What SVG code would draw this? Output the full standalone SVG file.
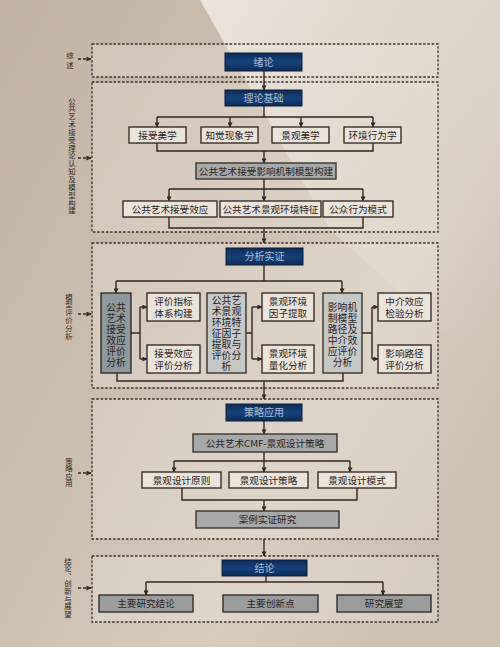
<svg xmlns="http://www.w3.org/2000/svg" width="500" height="647" viewBox="0 0 500 647">
<defs>
<linearGradient id="bg" x1="0" y1="0" x2="1" y2="0.7">
<stop offset="0" stop-color="#c2b3a3"/>
<stop offset="0.45" stop-color="#cdbfb0"/>
<stop offset="0.75" stop-color="#d8ccbf"/>
<stop offset="1" stop-color="#cdbfb1"/>
</linearGradient>
<linearGradient id="beam" x1="0" y1="0" x2="1" y2="0.8">
<stop offset="0" stop-color="#f3eee8" stop-opacity="0.85"/>
<stop offset="1" stop-color="#efe8e0" stop-opacity="0"/>
</linearGradient>
<linearGradient id="navy" x1="0" y1="0" x2="0" y2="1">
<stop offset="0" stop-color="#0c2c57"/>
<stop offset="0.5" stop-color="#16427a"/>
<stop offset="1" stop-color="#0c2c57"/>
</linearGradient>
<marker id="ah" viewBox="0 0 6 6" refX="5.5" refY="3" markerWidth="5" markerHeight="5" markerUnits="userSpaceOnUse" orient="auto">
<path d="M0,0 L6,3 L0,6 z" fill="#33261f"/>
</marker>
<style>
.sec{fill:#ece5dc;fill-opacity:0.35;stroke:#3a2d26;stroke-width:1.3;stroke-dasharray:2.5,1.8}
.nav{fill:url(#navy);stroke:#0a1f3d;stroke-width:1}
.nt{fill:#aac0da;font-family:"Noto Sans CJK SC",sans-serif;font-size:10px;text-anchor:middle}
.lb{fill:#ebe4da;stroke:#3a2d28;stroke-width:1.4}
.gm{fill:#a6a9a7;stroke:#3a3330;stroke-width:1.4}
.gd{fill:#8d999d;stroke:#332c2a;stroke-width:1.4}
.gl{fill:#c6c8c6;stroke:#3a3330;stroke-width:1.4}
.gb{fill:#9a9d9b;stroke:#332c2a;stroke-width:1.4}
.t{fill:#2a211d;font-family:"Noto Sans CJK SC",sans-serif;font-size:9.6px;text-anchor:middle}
.tv{fill:#2a211d;font-family:"Noto Sans CJK SC",sans-serif;font-size:9.8px;text-anchor:middle}
.side{fill:#2e2420;font-family:"Noto Sans CJK SC",sans-serif;font-size:7.4px;text-anchor:start;writing-mode:vertical-rl}
.c{fill:none;stroke:#33261f;stroke-width:1.4}
.ca{fill:none;stroke:#33261f;stroke-width:1.4;marker-end:url(#ah)}
.sa{fill:none;stroke:#33261f;stroke-width:1.4;stroke-dasharray:3,2;marker-end:url(#ah)}
</style>
</defs>
<rect x="0" y="0" width="500" height="647" fill="url(#bg)"/>
<polygon points="200,0 500,0 500,380 330,230" fill="url(#beam)"/>

<g id="sections">
<rect id="sec1" class="sec" x="92" y="44" width="346" height="33"/>
<rect id="sec2" class="sec" x="92" y="82" width="346" height="150"/>
<rect id="sec3" class="sec" x="92" y="243" width="346" height="145"/>
<rect id="sec4" class="sec" x="92" y="399" width="346" height="140"/>
<rect id="sec5" class="sec" x="92" y="556" width="346" height="66"/>
</g>

<g id="side-labels">
<text id="side1" class="side" x="70" y="51" style="letter-spacing:3px">综述</text>
<text id="side2" class="side" x="72" y="97" style="letter-spacing:0.45px">公共艺术接受理论认知及模型构建</text>
<text id="side3" class="side" x="69" y="293" style="letter-spacing:0.4px">模型评价分析</text>
<text id="side4" class="side" x="69" y="457" style="letter-spacing:0.2px">策略应用</text>
<text id="side5" class="side" x="68" y="557" style="letter-spacing:0.2px">结论、创新与展望</text>
</g>

<g id="connectors">
<path class="sa" d="M78,59 H91"/>
<path class="sa" d="M78,158 H91"/>
<path class="sa" d="M78,314 H91"/>
<path class="sa" d="M78,473 H91"/>
<path class="sa" d="M78,588 H91"/>

<path class="ca" d="M264,71 V90"/>
<path class="c" d="M264,106 V117 M157,117 H373"/>
<path class="ca" d="M157,117 V127"/>
<path class="ca" d="M230,117 V127"/>
<path class="ca" d="M301,117 V127"/>
<path class="ca" d="M373,117 V127"/>
<path class="c" d="M157,143 V151 H373 V143"/>
<path class="ca" d="M264,151 V163"/>
<path class="c" d="M264,179 V189 M169,189 H363"/>
<path class="ca" d="M169,189 V201"/>
<path class="ca" d="M264,189 V201"/>
<path class="ca" d="M363,189 V201"/>
<path class="c" d="M169,217 V228 H363 V217"/>
<path class="ca" d="M264,228 V243"/>

<path class="c" d="M264,265 V281 M116,281 H342"/>
<path class="ca" d="M116,281 V293"/>
<path class="ca" d="M342,281 V293"/>
<path class="c" d="M131,333 H140 M140,307 V359"/>
<path class="ca" d="M140,307 H147"/>
<path class="ca" d="M140,359 H147"/>
<path class="c" d="M246,333 H252 M252,307 V359"/>
<path class="ca" d="M252,307 H262"/>
<path class="ca" d="M252,359 H262"/>
<path class="c" d="M362,333 H372 M372,307 V359"/>
<path class="ca" d="M372,307 H378"/>
<path class="ca" d="M372,359 H378"/>
<path class="c" d="M117,373 V381 H343 V373"/>
<path class="ca" d="M264,381 V399"/>

<path class="ca" d="M264,421 V434"/>
<path class="c" d="M264,452 V461 M174,461 H350"/>
<path class="ca" d="M174,461 V472"/>
<path class="ca" d="M264,461 V472"/>
<path class="ca" d="M350,461 V472"/>
<path class="c" d="M182,488 V500 H357 V488"/>
<path class="ca" d="M264,500 V511"/>
<path class="ca" d="M264,539 V556"/>

<path class="c" d="M266,576 V582 M146,582 H383"/>
<path class="ca" d="M146,582 V595"/>
<path class="ca" d="M383,582 V595"/>
</g>

<g id="n-xulun"><rect class="nav" x="225" y="53" width="77" height="18"/><text class="nt" x="263.5" y="65.5">绪论</text></g>
<g id="n-lilun"><rect class="nav" x="225" y="90" width="77" height="16"/><text class="nt" x="263.5" y="101.5">理论基础</text></g>
<g id="n-jieshou"><rect class="lb" x="129" y="127" width="57" height="16"/><text class="t" x="157.5" y="138.5">接受美学</text></g>
<g id="n-zhijue"><rect class="lb" x="201" y="127" width="57" height="16"/><text class="t" x="229.5" y="138.5">知觉现象学</text></g>
<g id="n-jingguan"><rect class="lb" x="272" y="127" width="57" height="16"/><text class="t" x="300.5" y="138.5">景观美学</text></g>
<g id="n-huanjing"><rect class="lb" x="344" y="127" width="57" height="16"/><text class="t" x="372.5" y="138.5">环境行为学</text></g>
<g id="n-moxing"><rect class="gm" x="196" y="163" width="140" height="16"/><text class="t" x="266" y="174.5">公共艺术接受影响机制模型构建</text></g>
<g id="n-xiaoying"><rect class="lb" x="123" y="201" width="94" height="16"/><text class="t" x="170" y="212.5">公共艺术接受效应</text></g>
<g id="n-tezheng"><rect class="lb" x="220" y="201" width="101" height="16"/><text class="t" x="270.5" y="212.5">公共艺术景观环境特征</text></g>
<g id="n-xingwei"><rect class="lb" x="323" y="201" width="70" height="16"/><text class="t" x="358" y="212.5">公众行为模式</text></g>

<g id="n-fenxi"><rect class="nav" x="226" y="248" width="77" height="17"/><text class="nt" x="264.5" y="260">分析实证</text></g>
<g id="n-pj1"><rect class="gd" x="101" y="293" width="30" height="80"/><text class="tv"><tspan x="116" y="311">公共</tspan><tspan x="116" dy="11">艺术</tspan><tspan x="116" dy="11">接受</tspan><tspan x="116" dy="11">效应</tspan><tspan x="116" dy="11">评价</tspan><tspan x="116" dy="11">分析</tspan></text></g>
<g id="n-zhibiao"><rect class="lb" x="147" y="293" width="53" height="28"/><text class="t"><tspan x="173.5" y="305">评价指标</tspan><tspan x="173.5" dy="12">体系构建</tspan></text></g>
<g id="n-jspj"><rect class="lb" x="147" y="345" width="53" height="28"/><text class="t"><tspan x="173.5" y="357">接受效应</tspan><tspan x="173.5" dy="12">评价分析</tspan></text></g>
<g id="n-pj2"><rect class="gl" x="207" y="293" width="39" height="80"/><text class="tv"><tspan x="226.5" y="304">公共艺</tspan><tspan x="226.5" dy="11">术景观</tspan><tspan x="226.5" dy="11">环境特</tspan><tspan x="226.5" dy="11">征因子</tspan><tspan x="226.5" dy="11">提取与</tspan><tspan x="226.5" dy="11">评价分</tspan><tspan x="226.5" dy="11">析</tspan></text></g>
<g id="n-yinzi"><rect class="lb" x="262" y="293" width="52" height="28"/><text class="t"><tspan x="288" y="305">景观环境</tspan><tspan x="288" dy="12">因子提取</tspan></text></g>
<g id="n-lianghua"><rect class="lb" x="262" y="345" width="52" height="28"/><text class="t"><tspan x="288" y="357">景观环境</tspan><tspan x="288" dy="12">量化分析</tspan></text></g>
<g id="n-pj3"><rect class="gl" x="323" y="293" width="39" height="80"/><text class="tv"><tspan x="342.5" y="311">影响机</tspan><tspan x="342.5" dy="11">制模型</tspan><tspan x="342.5" dy="11">路径及</tspan><tspan x="342.5" dy="11">中介效</tspan><tspan x="342.5" dy="11">应评价</tspan><tspan x="342.5" dy="11">分析</tspan></text></g>
<g id="n-zhongjie"><rect class="lb" x="378" y="293" width="53" height="28"/><text class="t"><tspan x="404.5" y="305">中介效应</tspan><tspan x="404.5" dy="12">检验分析</tspan></text></g>
<g id="n-lujing"><rect class="lb" x="378" y="345" width="53" height="28"/><text class="t"><tspan x="404.5" y="357">影响路径</tspan><tspan x="404.5" dy="12">评价分析</tspan></text></g>

<g id="n-celue"><rect class="nav" x="226" y="404" width="76" height="17"/><text class="nt" x="264" y="416">策略应用</text></g>
<g id="n-cmf"><rect class="gm" x="193" y="434" width="144" height="18"/><text class="t" x="265" y="446.5">公共艺术CMF-景观设计策略</text></g>
<g id="n-yuanze"><rect class="lb" x="142" y="472" width="79" height="16"/><text class="t" x="181.5" y="483.5">景观设计原则</text></g>
<g id="n-sjcl"><rect class="lb" x="229" y="472" width="79" height="16"/><text class="t" x="268.5" y="483.5">景观设计策略</text></g>
<g id="n-moshi"><rect class="lb" x="318" y="472" width="78" height="16"/><text class="t" x="357" y="483.5">景观设计模式</text></g>
<g id="n-anli"><rect class="gm" x="196" y="511" width="143" height="17"/><text class="t" x="267.5" y="523">案例实证研究</text></g>

<g id="n-jielun"><rect class="nav" x="222" y="560" width="85" height="16"/><text class="nt" x="264.5" y="571.5">结论</text></g>
<g id="n-jl1"><rect class="gb" x="99" y="595" width="94" height="17"/><text class="t" x="146" y="607">主要研究结论</text></g>
<g id="n-jl2"><rect class="gb" x="223" y="595" width="95" height="17"/><text class="t" x="270.5" y="607">主要创新点</text></g>
<g id="n-jl3"><rect class="gb" x="337" y="595" width="94" height="17"/><text class="t" x="384" y="607">研究展望</text></g>
</svg>
